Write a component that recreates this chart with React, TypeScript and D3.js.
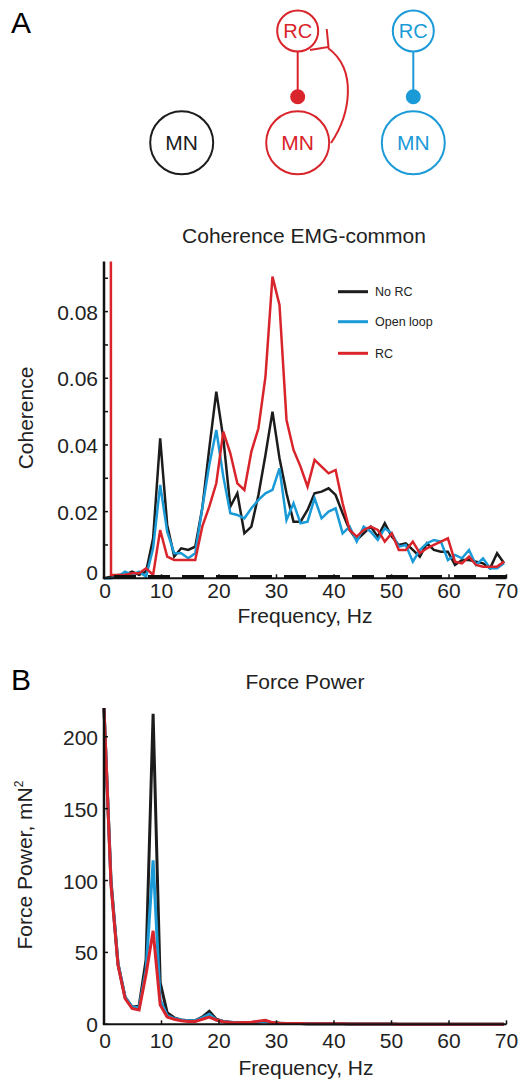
import React, { useEffect, useRef } from 'react';
import * as d3 from 'd3';

// frequency bins (Hz)
const freqHz = [
  0, 1.22, 2.44, 3.66, 4.88, 6.1, 7.32, 8.54, 9.77, 10.99,
  12.21, 13.43, 14.65, 15.87, 17.09, 18.31, 19.53, 20.75, 21.97, 23.19,
  24.41, 25.63, 26.86, 28.08, 29.3, 30.52, 31.74, 32.96, 34.18, 35.4,
  36.62, 37.84, 39.06, 40.28, 41.5, 42.72, 43.95, 45.17, 46.39, 47.61,
  48.83, 50.05, 51.27, 52.49, 53.71, 54.93, 56.15, 57.37, 58.59, 59.81,
  61.04, 62.26, 63.48, 64.7, 65.92, 67.14, 68.36, 69.58,
];

const cohNoRC = [
  0, 0.0005, 0.001, 0.001, 0.002, 0.001, 0.002, 0.012, 0.042, 0.016,
  0.0065, 0.009, 0.0085, 0.0095, 0.021, 0.039, 0.056, 0.042, 0.0215, 0.0255,
  0.0135, 0.0155, 0.025, 0.037, 0.05, 0.036, 0.0255, 0.017, 0.017, 0.0205,
  0.0255, 0.026, 0.027, 0.025, 0.0195, 0.0145, 0.0115, 0.0135, 0.0155, 0.0125,
  0.0165, 0.0125, 0.01, 0.0105, 0.0085, 0.0065, 0.0105, 0.0085, 0.008, 0.008,
  0.004, 0.0055, 0.0055, 0.005, 0.0045, 0.003, 0.0075, 0.0045,
];
const cohOpenLoop = [
  0, 0, 0.0005, 0.002, 0.001, 0.002, 0.0005, 0.009, 0.028, 0.014,
  0.0075, 0.0075, 0.006, 0.0075, 0.021, 0.034, 0.0445, 0.0305, 0.0195, 0.019,
  0.018, 0.021, 0.0235, 0.0255, 0.0265, 0.033, 0.0175, 0.0225, 0.0165, 0.017,
  0.024, 0.018, 0.02, 0.021, 0.0135, 0.0155, 0.011, 0.0155, 0.014, 0.0115,
  0.015, 0.0135, 0.0095, 0.01, 0.005, 0.0085, 0.0105, 0.0115, 0.011, 0.0055,
  0.007, 0.006, 0.0085, 0.004, 0.006, 0.003, 0.003, 0.0045,
];
const cohRC = [
  5, 0.001, 0.001, 0.001, 0.0015, 0.0015, 0.003, 0.001, 0.0145, 0.0065,
  0.0055, 0.0055, 0.0055, 0.0055, 0.0155, 0.0215, 0.0285, 0.044, 0.0375, 0.0285,
  0.0265, 0.038, 0.045, 0.0605, 0.0905, 0.082, 0.0475, 0.0385, 0.0335, 0.0275,
  0.0355, 0.0335, 0.0315, 0.0325, 0.0225, 0.0145, 0.0125, 0.0145, 0.0155, 0.0145,
  0.011, 0.0135, 0.0085, 0.0085, 0.011, 0.0075, 0.009, 0.01, 0.011, 0.012,
  0.005, 0.0045, 0.0065, 0.004, 0.0035, 0.0035, 0.0035, 0.005,
];
const cohLevel = 0.0005;

const powNoRC = [
  220, 100, 42, 19, 12, 12.5, 45, 216, 29, 8,
  4.5, 3, 2.5, 2.5, 5, 9, 3.5, 2, 1.5, 1,
  1, 1, 1.5, 2, 1, 0.8, 0.6, 0.5, 0.5, 0.4,
  0.4, 0.3, 0.3, 0.3, 0.3, 0.2, 0.2, 0.2, 0.2, 0.2,
  0.2, 0.2, 0.1, 0.1, 0.1, 0.1, 0.1, 0.1, 0.1, 0.1,
  0.1, 0.1, 0.1, 0.1, 0.1, 0.1, 0.1, 0.1,
];
const powOpenLoop = [
  220, 98, 42, 19, 12, 11.5, 38, 114, 17, 6,
  4, 3, 2.5, 2.5, 4.5, 7, 3, 2, 1.5, 1,
  1, 1.2, 1.8, 2.2, 1, 0.7, 0.6, 0.5, 0.5, 0.4,
  0.4, 0.3, 0.3, 0.3, 0.3, 0.2, 0.2, 0.2, 0.2, 0.2,
  0.2, 0.2, 0.1, 0.1, 0.1, 0.1, 0.1, 0.1, 0.1, 0.1,
  0.1, 0.1, 0.1, 0.1, 0.1, 0.1, 0.1, 0.1,
];
const powRC = [
  220, 97, 41, 18, 11, 10, 35, 65, 13.5, 5,
  3.5, 2.5, 2, 2, 3.5, 5, 3, 1.8, 1.3, 1,
  1.2, 1.5, 2.2, 2.8, 1.2, 0.7, 0.6, 0.5, 0.5, 0.4,
  0.4, 0.3, 0.3, 0.3, 0.3, 0.2, 0.2, 0.2, 0.2, 0.2,
  0.2, 0.2, 0.1, 0.1, 0.1, 0.1, 0.1, 0.1, 0.1, 0.1,
  0.1, 0.1, 0.1, 0.1, 0.1, 0.1, 0.1, 0.1,
];

const seriesNames = ['No RC', 'Open loop', 'RC'];
const seriesColors = ['#1c1c1c', '#1b9ad8', '#d8242a'];
const freqTicks = [0, 10, 20, 30, 40, 50, 60, 70];
const cohTicks = [0, 0.02, 0.04, 0.06, 0.08];
const cohMinorTicks = [0.01, 0.03, 0.05, 0.07, 0.09];
const powTicks = [0, 50, 100, 150, 200];

const FONT = '"Liberation Sans", Arial, sans-serif';

const App = () => {
  const ref = useRef<SVGSVGElement>(null);

  useEffect(() => {
    const svg = d3.select(ref.current);
    svg.selectAll('*').remove();
    svg.attr('font-family', FONT);

    // ---- panel letters
    svg.append('text').attr('x', 11).attr('y', 33).attr('font-size', 30).text('A');
    svg.append('text').attr('x', 11).attr('y', 690).attr('font-size', 30).text('B');

    // ---- circuit diagram
    const red = seriesColors[2];
    const blue = seriesColors[1];
    const cell = (cx: number, cy: number, r: number, label: string, color: string, fs: number) => {
      svg.append('circle').attr('cx', cx).attr('cy', cy).attr('r', r)
        .attr('fill', 'none').attr('stroke', color).attr('stroke-width', 2);
      svg.append('text').attr('x', cx).attr('y', cy).attr('dy', '0.36em')
        .attr('text-anchor', 'middle').attr('font-size', fs).attr('fill', color).text(label);
    };
    cell(181.7, 142.7, 31.5, 'MN', '#1c1c1c', 21);
    cell(297.7, 142.7, 31.5, 'MN', red, 21);
    cell(413.3, 142.7, 31.5, 'MN', blue, 21);
    cell(297.7, 31, 20.5, 'RC', red, 20);
    cell(413.3, 31, 20.5, 'RC', blue, 20);
    [[297.7, red], [413.3, blue]].forEach(([cx, c]) => {
      svg.append('line').attr('x1', cx).attr('x2', cx).attr('y1', 51.5).attr('y2', 96)
        .attr('stroke', c).attr('stroke-width', 2);
      svg.append('circle').attr('cx', cx).attr('cy', 96.7).attr('r', 7.5).attr('fill', c);
    });
    svg.append('path').attr('d', 'M331,143 C350,115 358,70 328,48')
      .attr('fill', 'none').attr('stroke', red).attr('stroke-width', 2);
    svg.append('path').attr('d', 'M310,50 L328.5,47 L326.7,29')
      .attr('fill', 'none').attr('stroke', red).attr('stroke-width', 2);

    // ---- shared helpers
    const x = d3.scaleLinear().domain([0, 70]).range([104, 506.5]);

    const drawFrame = (
      g: d3.Selection<SVGGElement, unknown, null, undefined>,
      y: d3.ScaleLinear<number, number>,
      yTicks: number[],
      yMinor: number[],
      fmt: (v: number) => string,
      xLabelY: number,
      zeroLabelY: number,
    ) => {
      const [y0, y1] = y.range();
      g.append('line').attr('x1', 104).attr('x2', 104).attr('y1', y1).attr('y2', y0)
        .attr('stroke', '#111').attr('stroke-width', 2.5);
      g.append('line').attr('x1', 102.8).attr('x2', 506.5).attr('y1', y0).attr('y2', y0)
        .attr('stroke', '#111').attr('stroke-width', 2);
      yTicks.concat(yMinor).forEach((v) => {
        g.append('line').attr('x1', 104).attr('x2', 108).attr('y1', y(v)).attr('y2', y(v))
          .attr('stroke', '#111').attr('stroke-width', 1.5);
      });
      yTicks.forEach((v) => {
        g.append('text').attr('x', 98).attr('y', v === 0 ? zeroLabelY : y(v) + 8)
          .attr('text-anchor', 'end').attr('font-size', 21).attr('fill', '#222').text(fmt(v));
      });
      freqTicks.forEach((v) => {
        if (v > 0) {
          g.append('line').attr('x1', x(v)).attr('x2', x(v)).attr('y1', y0).attr('y2', y0 - 4)
            .attr('stroke', '#111').attr('stroke-width', 1.5);
        }
        g.append('text').attr('x', x(v) + (v === 0 ? 1 : 0)).attr('y', xLabelY)
          .attr('text-anchor', 'middle').attr('font-size', 21).attr('fill', '#222').text(v);
      });
    };

    const drawSeries = (
      g: d3.Selection<SVGGElement, unknown, null, undefined>,
      y: d3.ScaleLinear<number, number>,
      all: number[][],
      width: number,
      clipId: string,
    ) => {
      const [y0, y1] = y.range();
      svg.append('clipPath').attr('id', clipId).append('rect')
        .attr('x', 100).attr('y', y1).attr('width', 415).attr('height', y0 - y1 + 10);
      const line = d3.line<number>().x((_, i) => x(freqHz[i])).y((d) => y(d));
      all.forEach((vals, i) => {
        g.append('path').datum(vals).attr('d', line)
          .attr('clip-path', `url(#${clipId})`)
          .attr('fill', 'none').attr('stroke', seriesColors[i])
          .attr('stroke-width', width).attr('stroke-linejoin', 'miter');
      });
    };

    // ---- coherence panel
    const yC = d3.scaleLinear().domain([0, 0.095]).range([578.3, 261.6]);
    const gC = svg.append('g');
    svg.append('text').attr('x', 304).attr('y', 243).attr('text-anchor', 'middle')
      .attr('font-size', 21).attr('fill', '#222').text('Coherence EMG-common');
    drawSeries(gC, yC, [cohNoRC, cohOpenLoop, cohRC], 2.5, 'clipC');
    gC.append('line').attr('x1', 104).attr('x2', 506).attr('y1', yC(cohLevel)).attr('y2', yC(cohLevel))
      .attr('stroke', '#111').attr('stroke-width', 3.5).attr('stroke-dasharray', '22,12')
      .attr('stroke-dashoffset', -10);
    drawFrame(gC, yC, cohTicks, cohMinorTicks, (v) => (v === 0 ? '0' : d3.format('.2f')(v)), 598, 580);
    svg.append('text').attr('transform', 'translate(33,418) rotate(-90)')
      .attr('text-anchor', 'middle').attr('font-size', 21).attr('fill', '#222').text('Coherence');
    svg.append('text').attr('x', 305).attr('y', 623).attr('text-anchor', 'middle')
      .attr('font-size', 21).attr('fill', '#222').text('Frequency, Hz');

    // legend
    const legY = [291.7, 321.7, 353.3];
    seriesNames.forEach((name, i) => {
      svg.append('line').attr('x1', 338).attr('x2', 368).attr('y1', legY[i]).attr('y2', legY[i])
        .attr('stroke', seriesColors[i]).attr('stroke-width', 3);
      svg.append('text').attr('x', 375).attr('y', legY[i]).attr('dy', '0.35em')
        .attr('font-size', 12.5).attr('fill', '#222').text(name);
    });

    // ---- force power panel
    const yP = d3.scaleLinear().domain([0, 220]).range([1024.3, 708]);
    const gP = svg.append('g');
    svg.append('text').attr('x', 305).attr('y', 689).attr('text-anchor', 'middle')
      .attr('font-size', 21).attr('fill', '#222').text('Force Power');
    drawSeries(gP, yP, [powNoRC, powOpenLoop, powRC], 3, 'clipP');
    drawFrame(gP, yP, powTicks, [], (v) => String(v), 1048, 1032);
    const yl = svg.append('text').attr('transform', 'translate(32,865) rotate(-90)')
      .attr('text-anchor', 'middle').attr('font-size', 21).attr('fill', '#222');
    yl.append('tspan').text('Force Power, mN');
    yl.append('tspan').attr('font-size', 12).attr('dy', -9).text('2');
    svg.append('text').attr('x', 306).attr('y', 1075).attr('text-anchor', 'middle')
      .attr('font-size', 21).attr('fill', '#222').text('Frequency, Hz');
  }, []);

  return (
    <svg
      ref={ref}
      width={520}
      height={1082}
      style={{ position: 'absolute', left: 0, top: 0, background: '#fff' }}
    />
  );
};

export default App;
